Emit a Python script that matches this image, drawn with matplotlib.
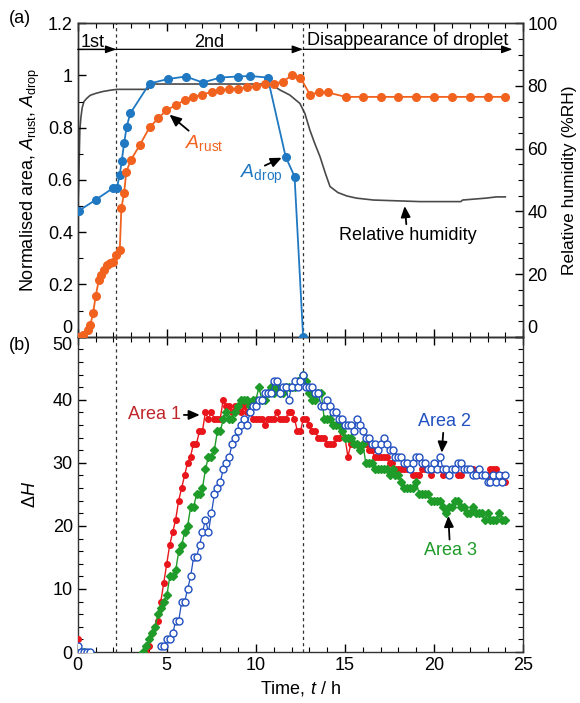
import numpy as np
import matplotlib.pyplot as plt
from matplotlib.ticker import MultipleLocator, FuncFormatter

plt.rcParams['font.family'] = ['Liberation Sans', 'DejaVu Sans']
plt.rcParams['mathtext.fontset'] = 'custom'
plt.rcParams['mathtext.rm'] = 'Liberation Sans'
plt.rcParams['mathtext.it'] = 'Liberation Sans:italic'
plt.rcParams['font.size'] = 13
plt.rcParams['xtick.direction'] = 'in'
plt.rcParams['ytick.direction'] = 'in'

# stage boundaries (h)
t_stage1 = 2.17
t_stage2 = 12.65

# (a) normalised areas
drop_t = [0.08, 1.03, 1.98, 2.2, 2.36, 2.47, 2.6, 2.75, 2.95, 4.03, 5.04, 6.05,
          7.02, 8.0, 8.98, 9.66, 10.66, 11.67, 12.17, 12.65]
drop_a = [0.483, 0.525, 0.569, 0.571, 0.62, 0.672, 0.74, 0.804, 0.855, 0.969, 0.986, 0.996,
          0.973, 0.992, 0.996, 0.998, 0.992, 0.689, 0.613, 0.0]

rust_t = [0.0, 0.3, 0.58, 0.71, 0.86, 1.01, 1.18, 1.33, 1.48, 1.63, 1.8, 1.99,
          2.13, 2.36, 2.45, 2.6, 2.73, 2.98, 3.47, 4.03, 4.51, 4.98, 5.49, 6.01,
          6.48, 6.99, 7.51, 7.98, 8.5, 9.0, 9.51, 10.0, 10.5, 11.0, 11.5, 12.0,
          12.5, 13.03, 13.54, 14.03, 15.04, 16.03, 17.0, 18.0, 19.0, 20.0, 21.0,
          22.0, 23.0, 24.0]
rust_a = [0.0, 0.008, 0.027, 0.046, 0.09, 0.156, 0.216, 0.237, 0.254, 0.274, 0.284, 0.285,
          0.313, 0.332, 0.492, 0.549, 0.632, 0.676, 0.732, 0.801, 0.836, 0.867, 0.886, 0.906,
          0.918, 0.927, 0.937, 0.944, 0.948, 0.95, 0.954, 0.959, 0.966, 0.969, 0.975, 1.0,
          0.992, 0.927, 0.935, 0.935, 0.918, 0.918, 0.918, 0.918, 0.918, 0.918, 0.918,
          0.918, 0.918, 0.918]

# relative humidity (%RH)
rh_t = [0.0, 0.05, 0.08, 0.12, 0.18, 0.25, 0.35, 0.5, 0.7, 1.0, 1.4, 1.8, 2.2, 3.95,
        4.0, 10.8, 11.0, 11.35, 11.9, 12.47, 12.75, 13.03, 13.3, 13.6, 13.9, 14.16,
        14.6, 15.1, 15.65, 16.6, 19.2, 21.5, 21.6, 22.9, 23.5, 24.0]
rh_v = [40.0, 48.0, 56.0, 66.0, 70.0, 73.0, 75.0, 76.0, 77.0, 77.6, 78.2, 78.6, 78.9, 78.9,
        80.6, 80.6, 80.0, 78.7, 77.1, 74.4, 71.2, 65.9, 61.7, 57.4, 52.1, 47.9,
        46.0, 44.9, 44.2, 43.6, 43.1, 43.1, 43.6, 44.2, 44.6, 44.6]

# (b) delta H, sampled every ~10 min
early_t = [0.0, 0.17, 0.33, 0.5, 0.67]
area1_early = [2, 0, 0, 0]
area2_early = [1, 0, 0, 0, 0]
area3_early = [0, 0, 0]

area1_span = (3.83, 24.0)
area1 = [0, 1, 3, 4, 5, 8, 11, 14, 17, 19, 21, 24,
         26, 28, 30, 31, 33, 33, 35, 35, 38, 37, 38, 37,
         37, 37, 40, 39, 39, 38, 39, 39, 38, 39, 38, 38,
         37, 37, 37, 37, 36, 37, 37, 37, 38, 37, 37, 37,
         38, 38, 37, 35, 35, 37, 37, 36, 35, 35, 34, 34,
         34, 33, 33, 33, 34, 34, 35, 34, 31, 33, 33, 33,
         32, 33, 33, 32, 32, 31, 31, 31, 31, 31, 30, 30,
         29, 29, 29, 29, 29, 29, 28, 28, 28, 29, 29, 29,
         28, 29, 29, 29, 28, 29, 28, 29, 29, 28, 28, 29,
         29, 29, 29, 28, 28, 28, 28, 28, 29, 29, 29, 28,
         28, 27]

area2_span = (4.67, 24.0)
area2 = [1, 1, 2, 2, 3, 5, 5, 8, 8, 10, 12, 15,
         15, 17, 19, 21, 19, 22, 25, 26, 27, 29, 30, 31,
         33, 34, 35, 36, 37, 36, 38, 39, 39, 40, 40, 41,
         41, 41, 43, 43, 41, 42, 42, 40, 42, 43, 42, 43,
         44, 42, 42, 42, 41, 41, 39, 39, 40, 39, 38, 38,
         37, 37, 36, 36, 36, 35, 37, 36, 35, 34, 34, 33,
         33, 32, 33, 34, 33, 32, 32, 31, 31, 31, 30, 30,
         29, 30, 31, 31, 30, 30, 29, 29, 30, 29, 31, 29,
         29, 28, 29, 29, 30, 30, 29, 29, 29, 28, 28, 29,
         28, 28, 27, 27, 28, 27, 28, 27, 28]

area3_span = (3.67, 24.0)
area3 = [0, 1, 2, 3, 4, 6, 7, 8, 9, 12, 12, 13,
         16, 17, 19, 20, 23, 23, 25, 25, 26, 29, 31, 31,
         32, 35, 35, 37, 38, 37, 37, 38, 39, 40, 40, 40,
         39, 40, 40, 42, 40, 40, 41, 42, 41, 42, 41, 41,
         42, 42, 42, 42, 43, 43, 44, 43, 41, 40, 40, 41,
         41, 37, 37, 37, 36, 36, 36, 35, 34, 34, 34, 33,
         33, 32, 33, 30, 30, 30, 29, 29, 29, 29, 29, 28,
         29, 28, 28, 27, 26, 26, 26, 26, 27, 25, 25, 25,
         25, 24, 24, 24, 24, 23, 22, 23, 23, 24, 24, 23,
         23, 22, 22, 23, 22, 22, 22, 21, 22, 21, 21, 21,
         22, 21, 21]

c_drop = '#1f78c1'
c_rust = '#f2621f'
c_rh = '#4a4a4a'
c_a1 = '#e8151b'
c_a2 = '#2150c0'
c_a3 = '#1e9b28'

fig = plt.figure(figsize=(5.8, 7.03), dpi=100)
ax1 = fig.add_axes([0.134, 0.521, 0.768, 0.446])
ax2 = fig.add_axes([0.134, 0.0725, 0.768, 0.4485])
ax1r = ax1.twinx()

# ---- (a)
ax1r.plot(rh_t, rh_v, color=c_rh, lw=1.2, zorder=1)
ax1.plot(drop_t, drop_a, '-o', color=c_drop, ms=5.5, lw=1.3, zorder=3)
ax1.plot(rust_t, rust_a, '-o', color=c_rust, ms=5.5, lw=1.3, zorder=4)
ax1.set_zorder(ax1r.get_zorder() + 1)
ax1.patch.set_visible(False)

ax1.set_xlim(0, 25)
ax1.set_ylim(0, 1.2)
ax1r.set_ylim(0, 100)
ax1.set_yticks([0, 0.2, 0.4, 0.6, 0.8, 1.0, 1.2])
ax1.yaxis.set_major_formatter(FuncFormatter(lambda v, p: '%g' % v))
ax1.yaxis.set_minor_locator(MultipleLocator(0.1))
ax1.xaxis.set_major_locator(MultipleLocator(5))
ax1.xaxis.set_minor_locator(MultipleLocator(1))
ax1.tick_params(axis='x', which='both', top=True, labelbottom=False)
ax1.tick_params(which='major', length=6, width=1)
ax1.tick_params(which='minor', length=3.5, width=0.8)
ax1r.set_yticks([0, 20, 40, 60, 80, 100])
ax1r.yaxis.set_minor_locator(MultipleLocator(5))
ax1r.tick_params(which='major', length=6, width=1, pad=3)
ax1r.tick_params(which='minor', length=3.5, width=0.8)
ax1.set_ylabel('Normalised area, $A_\\mathrm{rust}$, $A_\\mathrm{drop}$', labelpad=4)
ax1r.set_ylabel('Relative humidity (%RH)', labelpad=3, fontsize=12.5)
ax1.get_yticklabels()[0].set_va('bottom')
ax1r.get_yticklabels()[0].set_va('bottom')

for t in (t_stage1, t_stage2):
    ax1.axvline(t, color='#333333', lw=0.9, ls=(0, (2.5, 2.5)), zorder=2)
    ax2.axvline(t, color='#333333', lw=0.9, ls=(0, (2.5, 2.5)), zorder=2)

ax1.axhline(1.1, xmax=t_stage1 / 25, color='black', lw=0.9)
arrow = dict(arrowstyle='-|>,head_length=0.5,head_width=0.18', color='black', lw=0.9,
             shrinkA=0, shrinkB=0)
ax1.annotate('', xy=(t_stage1, 1.1), xytext=(0, 1.1), arrowprops=arrow)
ax1.annotate('', xy=(t_stage2, 1.1), xytext=(t_stage1, 1.1), arrowprops=arrow)
ax1.annotate('', xy=(24.4, 1.1), xytext=(t_stage2, 1.1), arrowprops=arrow)
ax1.text(0.85, 1.128, '1st', ha='center', va='center')
ax1.text(7.4, 1.128, '2nd', ha='center', va='center')
ax1.text(18.5, 1.135, 'Disappearance of droplet', ha='center', va='center')

pt = dict(arrowstyle='-|>,head_length=0.5,head_width=0.22', color='black', lw=1.3,
          shrinkA=0, shrinkB=0)
ax1.annotate('$A_\\mathrm{rust}$', xy=(5.15, 0.85), xytext=(6.0, 0.778),
             arrowprops=pt, color=c_rust, fontsize=14, va='top', ha='left')
ax1.text(10.3, 0.62, '$A_\\mathrm{drop}$', color=c_drop, fontsize=14, va='center', ha='center')
ax1.annotate('', xy=(11.45, 0.685), xytext=(10.5, 0.655), arrowprops=pt)
ax1.annotate('Relative humidity', xy=(18.35, 0.50), xytext=(18.5, 0.42),
             arrowprops=pt, color='black', fontsize=13, va='top', ha='center')

# ---- (b)
t1 = np.linspace(area1_span[0], area1_span[1], len(area1))
t2 = np.linspace(area2_span[0], area2_span[1], len(area2))
t3 = np.linspace(area3_span[0], area3_span[1], len(area3))

ax2.plot(t1, area1, '-o', color=c_a1, ms=4, lw=1.0, zorder=3)
ax2.plot(early_t[:len(area1_early)], area1_early, '-o', color=c_a1, ms=4, lw=1.0, zorder=3)
ax2.plot(t3, area3, '-D', color=c_a3, ms=4.2, lw=1.0, zorder=4)
ax2.plot(early_t[:len(area3_early)], area3_early, '-D', color=c_a3, ms=4.2, lw=1.0, zorder=4)
ax2.plot(t2, area2, '-o', color=c_a2, ms=5, lw=0.9, mfc='white', mew=1.0, zorder=5)
ax2.plot(early_t, area2_early, '-o', color=c_a2, ms=5, lw=0.9, mfc='white', mew=1.0, zorder=5)

ax2.set_xlim(0, 25)
ax2.set_ylim(0, 50)
ax2.xaxis.set_major_locator(MultipleLocator(5))
ax2.xaxis.set_minor_locator(MultipleLocator(1))
ax2.yaxis.set_major_locator(MultipleLocator(10))
ax2.yaxis.set_minor_locator(MultipleLocator(2))
ax2.tick_params(which='both', top=True, right=True)
ax2.tick_params(which='major', length=6, width=1)
ax2.tick_params(which='minor', length=3.5, width=0.8)
ax2.set_xlabel('Time, $t$ / h')
ax2.set_ylabel('$\\Delta H$', labelpad=10)
ax2.set_yticks([0, 10, 20, 30, 40, 50])
ax2.get_yticklabels()[-1].set_va('top')

ax2.annotate('Area 1', xy=(6.85, 37.6), xytext=(5.8, 37.6), arrowprops=pt,
             color='#c0262b', va='center', ha='right')
ax2.annotate('Area 2', xy=(20.43, 31.6), xytext=(20.56, 35.2), arrowprops=pt,
             color=c_a2, va='bottom', ha='center')
ax2.annotate('Area 3', xy=(20.8, 21.6), xytext=(20.9, 17.4), arrowprops=pt,
             color=c_a3, va='top', ha='center')

for ax in (ax1, ax1r, ax2):
    for s in ax.spines.values():
        s.set_linewidth(1.0)
        s.set_color('#333333')

fig.text(0.035, 0.974, '(a)', fontsize=13, va='center', ha='center')
fig.text(0.035, 0.508, '(b)', fontsize=13, va='center', ha='center')

fig.savefig('out.png', dpi=100)
